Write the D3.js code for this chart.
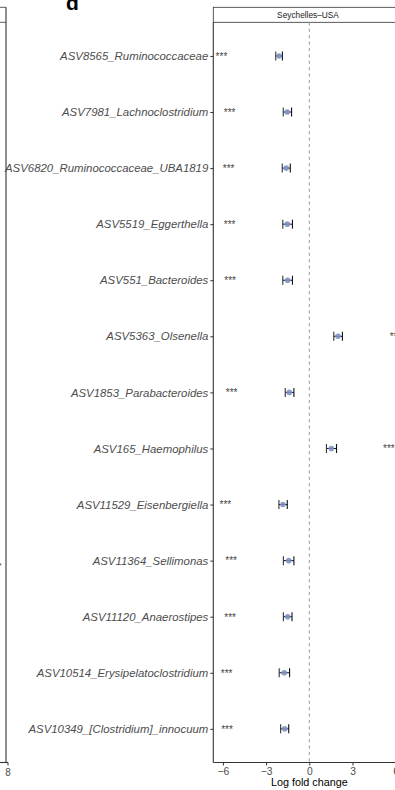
<!DOCTYPE html>
<html>
<head>
<meta charset="utf-8">
<script src="https://cdn.jsdelivr.net/npm/d3@7"></script>
<style>
  html, body { margin: 0; padding: 0; background: #fff; }
  svg { display: block; font-family: "Liberation Sans", Arial, Helvetica, sans-serif; }
</style>
</head>
<body>
<svg id="chart" width="395" height="790"></svg>
<script>
// Differentially abundant ASVs, Seychelles vs USA (log fold change ± CI)
const taxa = [
  "ASV8565_Ruminococcaceae",
  "ASV7981_Lachnoclostridium",
  "ASV6820_Ruminococcaceae_UBA1819",
  "ASV5519_Eggerthella",
  "ASV551_Bacteroides",
  "ASV5363_Olsenella",
  "ASV1853_Parabacteroides",
  "ASV165_Haemophilus",
  "ASV11529_Eisenbergiella",
  "ASV11364_Sellimonas",
  "ASV11120_Anaerostipes",
  "ASV10514_Erysipelatoclostridium",
  "ASV10349_[Clostridium]_innocuum"
];
const logFC   = [-2.10, -1.53, -1.60, -1.53, -1.50, 1.99, -1.39, 1.53, -1.83, -1.43, -1.50, -1.74, -1.71];
const ciLower = [-2.33, -1.81, -1.88, -1.84, -1.84, 1.70, -1.67, 1.19, -2.11, -1.80, -1.80, -2.09, -1.99];
const ciUpper = [-1.87, -1.23, -1.32, -1.17, -1.17, 2.30, -1.07, 1.89, -1.53, -1.07, -1.20, -1.37, -1.43];
const signif  = ["***", "***", "***", "***", "***", "***", "***", "***", "***", "***", "***", "***", "***"];
const xTicks  = [-6, -3, 0, 3, 6];
const facetLabel = "Seychelles\u2013USA";
const xTitle = "Log fold change";

const svg = d3.select("#chart");

const panel = { left: 213.3, right: 396, top: 22.3, bottom: 762.5, stripTop: 7.3 };

const x = d3.scaleLinear().domain([-6, 6]).range([222.9, 395.7]);
const y = d3.scalePoint().domain(taxa).range([panel.top, panel.bottom]).padding(0.6);

const axisCol = "#333333";
const textCol = "#4d4d4d";

// Panel tag
svg.append("text")
  .attr("x", 66).attr("y", 10)
  .attr("font-size", 21).attr("font-weight", "bold").attr("fill", "#000")
  .text("d");

// Neighbouring panel edge on the far left
const leftEdge = svg.append("g");
leftEdge.append("line").attr("x1", 6).attr("x2", 6).attr("y1", panel.stripTop).attr("y2", panel.bottom)
  .attr("stroke", axisCol).attr("stroke-width", 1.1);
leftEdge.append("line").attr("x1", 0).attr("x2", 6).attr("y1", panel.stripTop).attr("y2", panel.stripTop)
  .attr("stroke", axisCol).attr("stroke-width", 0.8);
leftEdge.append("line").attr("x1", 0).attr("x2", 6).attr("y1", panel.top).attr("y2", panel.top)
  .attr("stroke", axisCol).attr("stroke-width", 0.8);
leftEdge.append("line").attr("x1", 0).attr("x2", 8).attr("y1", panel.bottom).attr("y2", panel.bottom)
  .attr("stroke", axisCol).attr("stroke-width", 1.1);
leftEdge.append("line").attr("x1", 8).attr("x2", 8).attr("y1", panel.bottom).attr("y2", panel.bottom + 3)
  .attr("stroke", axisCol).attr("stroke-width", 1);
leftEdge.append("text").attr("x", 8).attr("y", panel.bottom + 13.5)
  .attr("text-anchor", "middle").attr("font-size", 10).attr("fill", textCol).text("8");
leftEdge.append("text").attr("x", 0).attr("y", 568)
  .attr("text-anchor", "middle").attr("font-size", 8).attr("fill", "#333").text("*");

// Facet strip
svg.append("rect")
  .attr("x", panel.left).attr("y", panel.stripTop)
  .attr("width", panel.right - panel.left).attr("height", panel.top - panel.stripTop)
  .attr("fill", "#fff").attr("stroke", axisCol).attr("stroke-width", 0.8);
svg.append("text")
  .attr("x", 308).attr("y", 18)
  .attr("text-anchor", "middle").attr("font-size", 8.3).attr("fill", "#1a1a1a")
  .text(facetLabel);

// Zero reference line
svg.append("line")
  .attr("x1", x(0)).attr("x2", x(0)).attr("y1", panel.top).attr("y2", panel.bottom)
  .attr("stroke", "#999").attr("stroke-width", 1).attr("stroke-dasharray", "3.2,3.2");

// Y axis
const yAxis = svg.append("g")
  .attr("transform", `translate(${panel.left},0)`)
  .call(d3.axisLeft(y).tickSize(3).tickPadding(2));
yAxis.select(".domain").remove();
yAxis.selectAll(".tick line").attr("stroke", axisCol);
yAxis.selectAll(".tick text")
  .attr("font-size", 11.4).attr("font-style", "italic").attr("fill", textCol)
  .attr("font-family", "Liberation Sans, Arial, sans-serif");
svg.append("line")
  .attr("x1", panel.left).attr("x2", panel.left).attr("y1", panel.top).attr("y2", panel.bottom)
  .attr("stroke", axisCol).attr("stroke-width", 1.1);

// X axis
const xAxis = svg.append("g")
  .attr("transform", `translate(0,${panel.bottom})`)
  .call(d3.axisBottom(x).tickValues(xTicks).tickSize(3).tickPadding(2)
    .tickFormat(d => d < 0 ? "\u2212" + Math.abs(d) : String(d)));
xAxis.select(".domain").remove();
xAxis.selectAll(".tick line").attr("stroke", axisCol);
xAxis.selectAll(".tick text")
  .attr("font-size", 10.3).attr("fill", textCol)
  .attr("font-family", "Liberation Sans, Arial, sans-serif");
svg.append("line")
  .attr("x1", panel.left).attr("x2", panel.right).attr("y1", panel.bottom).attr("y2", panel.bottom)
  .attr("stroke", axisCol).attr("stroke-width", 1.1);
svg.append("text")
  .attr("x", x(0)).attr("y", 786)
  .attr("text-anchor", "middle").attr("font-size", 10.8).attr("fill", "#000")
  .text(xTitle);

// Estimates with confidence intervals
const rows = taxa.map((t, i) => ({ t, lfc: logFC[i], lo: ciLower[i], hi: ciUpper[i], s: signif[i] }));
const capH = 4.5;
const g = svg.append("g");
const bar = g.selectAll("g.row").data(rows).join("g").attr("class", "row");
bar.append("line")
  .attr("x1", d => x(d.lo)).attr("x2", d => x(d.hi))
  .attr("y1", d => y(d.t)).attr("y2", d => y(d.t))
  .attr("stroke", "#111").attr("stroke-width", 1);
bar.append("line")
  .attr("x1", d => x(d.lo)).attr("x2", d => x(d.lo))
  .attr("y1", d => y(d.t) - capH).attr("y2", d => y(d.t) + capH)
  .attr("stroke", "#333").attr("stroke-width", 1.1);
bar.append("line")
  .attr("x1", d => x(d.hi)).attr("x2", d => x(d.hi))
  .attr("y1", d => y(d.t) - capH).attr("y2", d => y(d.t) + capH)
  .attr("stroke", "#111").attr("stroke-width", 1.1);
bar.append("circle")
  .attr("cx", d => x(d.lfc)).attr("cy", d => y(d.t)).attr("r", 2.8)
  .attr("fill", "#7d92c4").attr("fill-opacity", 0.9);

// Significance stars, set off from the estimate on the side of the effect
const starOffset = 4;
bar.append("text")
  .attr("x", d => x(d.lfc + (d.lfc < 0 ? -starOffset : starOffset)))
  .attr("y", d => y(d.t) + 3.8)
  .attr("text-anchor", "middle").attr("font-size", 10).attr("fill", "#444")
  .text(d => d.s);
</script>
</body>
</html>
